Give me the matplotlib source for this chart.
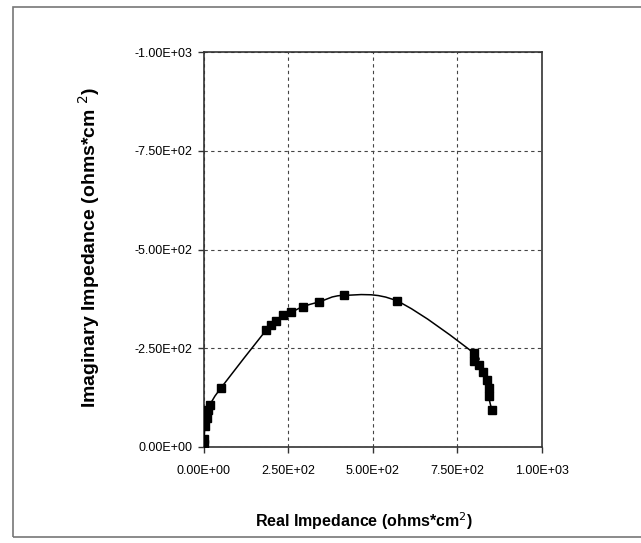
import numpy as np
import matplotlib
matplotlib.use("Agg")
from matplotlib import pyplot as plt
from matplotlib.path import Path
from matplotlib.patches import PathPatch, Rectangle
from matplotlib.ticker import FuncFormatter

# Nyquist data
real_z = [0, 2, 4, 9, 14, 19, 51, 186, 200, 215, 235, 259, 293, 340, 416, 573,
          798, 798, 813, 827, 837, 842, 842, 852]
imag_z = [-8, -20, -52, -73, -94, -107, -149, -297, -310, -318, -333, -341, -355,
          -367, -384, -369, -238, -217, -208, -191, -170, -149, -128, -94]

x_ticks = [0, 250, 500, 750, 1000]
y_ticks = [0, -250, -500, -750, -1000]


def smooth_path(xs, ys):
    # excel style smoothed line: catmull-rom segments as cubic beziers
    pts = np.column_stack([xs, ys]).astype(float)
    ext = np.vstack([pts[0], pts, pts[-1]])
    verts = [tuple(pts[0])]
    codes = [Path.MOVETO]
    for i in range(1, len(ext) - 2):
        p0, p1, p2, p3 = ext[i - 1], ext[i], ext[i + 1], ext[i + 2]
        c1 = p1 + (p2 - p0) / 6.0
        c2 = p2 - (p3 - p1) / 6.0
        verts += [tuple(c1), tuple(c2), tuple(p2)]
        codes += [Path.CURVE4] * 3
    return Path(verts, codes)


plt.rcParams['font.family'] = ['Liberation Sans', 'DejaVu Sans']

fig = plt.figure(figsize=(6.41, 5.43), dpi=100)
ax = fig.add_axes([0.3175, 0.1768, 0.5281, 0.7274])

# outer frame of the original figure (right edge cut off)
fig.patches.append(Rectangle((13 / 641, 1 - 537 / 543), 2, (537 - 7) / 543,
                             transform=fig.transFigure, fill=False,
                             edgecolor='#777777', linewidth=1.2))

ax.add_patch(PathPatch(smooth_path(real_z, imag_z), fill=False,
                       edgecolor='black', linewidth=1.1, zorder=3))
ax.plot(real_z, imag_z, linestyle='none', marker='s', markersize=5.5,
        color='black', zorder=4)

ax.set_xlim(0, 1000)
ax.set_ylim(0, -1000)
ax.set_xticks(x_ticks)
ax.set_yticks(y_ticks)
fmt = FuncFormatter(lambda v, p: f"{v:.2E}")
ax.xaxis.set_major_formatter(fmt)
ax.yaxis.set_major_formatter(fmt)
ax.tick_params(direction='out', length=4, width=1, labelsize=9, color='#333333')
ax.tick_params(axis='x', pad=9)
ax.tick_params(axis='y', pad=4)

ax.grid(True, linestyle=(0, (3, 3)), color='#444444', linewidth=0.8)
ax.set_axisbelow(True)
for s in ax.spines.values():
    s.set_color('#333333')
    s.set_linewidth(1.2)

ax.set_xlabel('Real Impedance (ohms*cm$^2$)', fontsize=11.5, fontweight='bold')
ax.xaxis.set_label_coords(0.475, -0.16)
ax.set_ylabel('Imaginary Impedance (ohms*cm $^2$)', fontsize=14,
              fontweight='bold')
ax.yaxis.set_label_coords(-0.30, 0.505)

fig.savefig('out.png', dpi=100)
